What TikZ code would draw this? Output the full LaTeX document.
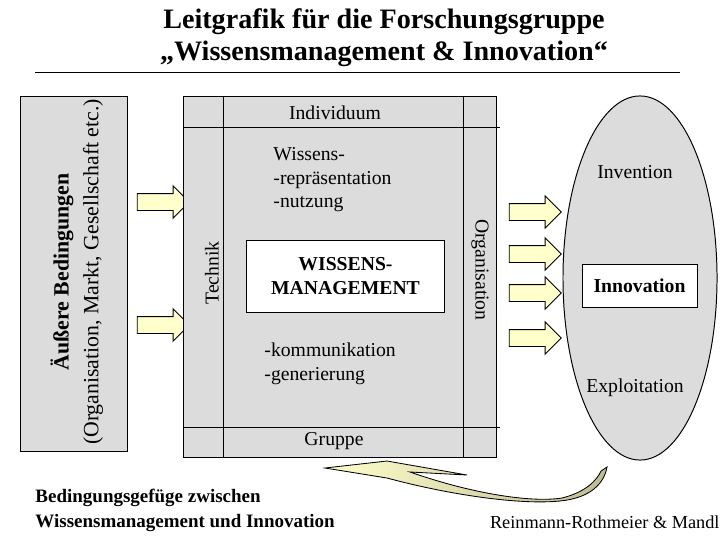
\documentclass[tikz,border=0pt]{standalone}
\usepackage{fontspec}
\setmainfont{Liberation Serif}
\usetikzlibrary{shapes.arrows,shapes.geometric}
\definecolor{boxgray}{HTML}{DCDCDC}
\definecolor{arrowyellow}{HTML}{FFFFCC}
\definecolor{curlolive}{HTML}{BEBC92}

\begin{document}
\begin{tikzpicture}[x=0.025cm,y=-0.025cm,line width=0.7pt]
	\tikzstyle{graybox} = [draw=black, fill=boxgray]
	\tikzstyle{blockarrow} = [single arrow, draw=black, fill=arrowyellow, inner sep=0pt, inner ysep=0.2cm, minimum height=1.3cm, single arrow head extend=0.19cm]
	\tikzstyle{txt} = [inner sep=0pt, font=\fontsize{14}{16.7}\selectfont]
	\tikzstyle{boldtxt} = [inner sep=0pt, font=\bfseries\fontsize{14}{17}\selectfont]
	\useasboundingbox (0,0) rectangle (720,540);
	% title
		\node[inner sep=0pt, align=center, font=\bfseries\fontsize{20}{22.75}\selectfont] (title) at (384,38) {Leitgrafik für die Forschungsgruppe\\„Wissensmanagement \& Innovation“};
		\coordinate (ruleL) at (35,72);
		\coordinate (ruleR) at (680,72);
	\draw (ruleL) -- (ruleR);
	% outer conditions
	\draw[graybox] (20,96) rectangle (127,451);
		\node[inner sep=0pt, rotate=90, font=\bfseries\fontsize{15.5}{18}\selectfont] (outer) at (62,272) {Äußere Bedingungen};
		\node[inner sep=0pt, rotate=90, font=\fontsize{15.5}{18}\selectfont] (outerlist) at (93,272) {(Organisation, Markt, Gesellschaft etc.)};
		\node[blockarrow] (inA) at (159,202) {};
		\node[blockarrow] (inB) at (159,325) {};
	% knowledge management
	\draw[graybox] (183,96) rectangle (496,457);
	\draw (223,96) -- (223,457);
	\draw (463,96) -- (463,457);
	\draw (183,127) -- (500,127);
	\draw (183,427) -- (500,427);
		\node[txt] (indiv) at (335,113) {Individuum};
		\node[txt] (group) at (334,441) {Gruppe};
		\node[txt, rotate=90] (tech) at (212,273) {Technik};
		\node[txt, rotate=-90] (org) at (480,270) {Organisation};
		\node[txt, anchor=west, align=left] (upper) at (273,180) {Wissens-\\-repräsentation\\-nutzung};
		\node[txt, anchor=west, align=left] (lower) at (264,364) {-kommunikation\\-generierung};
		\node[boldtxt, draw=black, fill=white, align=center, minimum width=4.925cm, minimum height=1.8cm] (wm) at (345.5,276) {WISSENS-\\MANAGEMENT};
	\foreach \y [count=\i] in {212,254,293,338}
		\node[blockarrow] (out\i) at (531,\y) {};
	% innovation
		\node[graybox, ellipse, minimum width=3.85cm, minimum height=9.1cm] (inno) at (640,278) {};
		\node[txt] (invent) at (635,172) {Invention};
		\node[boldtxt, draw=black, fill=white, minimum width=2.875cm, minimum height=1.075cm] (innov) at (639.5,285.5) {Innovation};
		\node[txt] (exploit) at (635,388) {Exploitation};
	% feedback arrow
	\shade[left color=arrowyellow, right color=curlolive, draw=black, line width=0.6pt]
		(325,468) -- (387,461) -- (467,475) -- (410,472)
		.. controls (470,493) and (530,503) .. (562,498)
		.. controls (586,492) and (597,480) .. (601,471) -- (607,467)
		.. controls (604,484) and (590,498) .. (560,501)
		.. controls (520,505) and (450,495) .. (387,478) -- cycle;
	% captions
		\node[inner sep=0pt, anchor=west, align=left, font=\bfseries\fontsize{13.5}{17.8}\selectfont] (caption) at (35,510) {Bedingungsgefüge zwischen\\Wissensmanagement und Innovation};
		\node[inner sep=0pt, anchor=east, font=\fontsize{13}{15}\selectfont] (credit) at (720,522) {Reinmann-Rothmeier \& Mandl};
\end{tikzpicture}
\end{document}
